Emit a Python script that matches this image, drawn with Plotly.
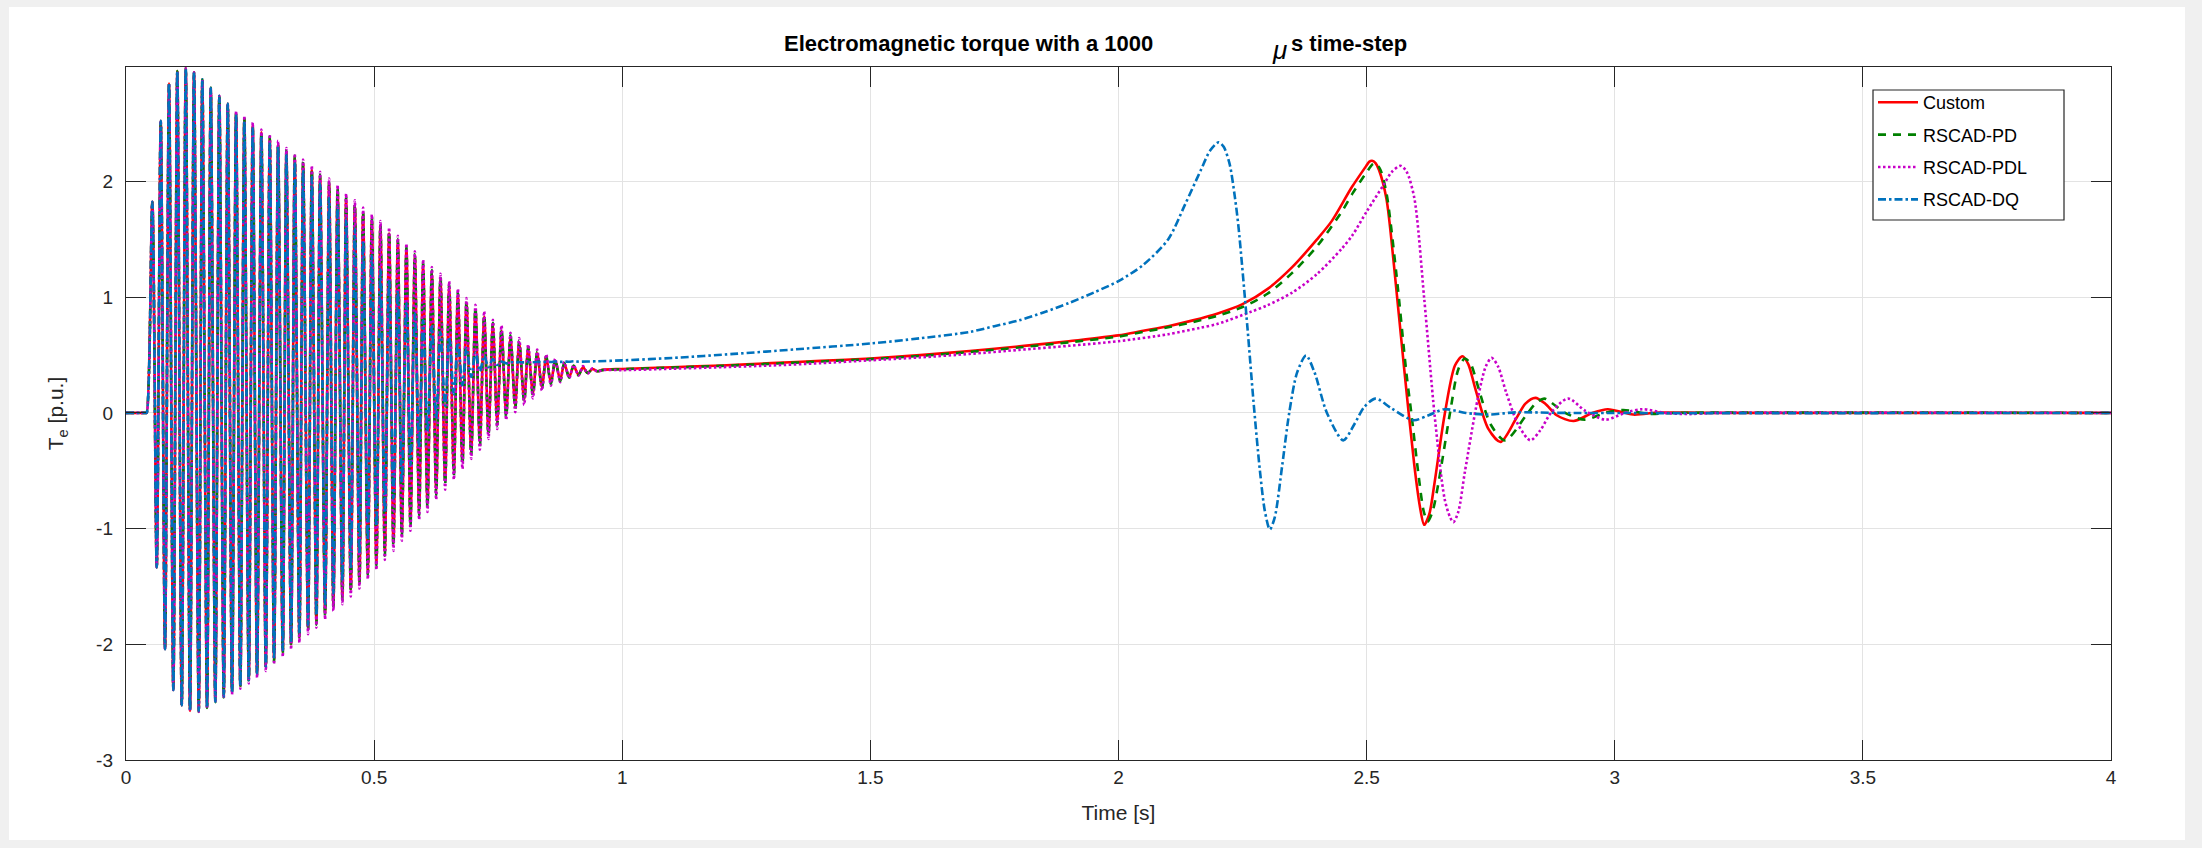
import plotly.graph_objects as go

# ---------------- data ----------------
# times of the positive / negative extremes of the start-up torque oscillation [s]
top_t = [0.0530, 0.0700, 0.0867, 0.1034, 0.1204, 0.1371, 0.1538, 0.1708, 0.1881, 0.2050,
         0.2218, 0.2385, 0.2554, 0.2728, 0.2897, 0.3065, 0.3232, 0.3401, 0.3569, 0.3744,
         0.3911, 0.4093, 0.4264, 0.4435, 0.4611, 0.4778, 0.4954, 0.5127, 0.5302, 0.5478,
         0.5651, 0.5821, 0.5988, 0.6163, 0.6337, 0.6512, 0.6688, 0.6861, 0.7042, 0.7218,
         0.7393, 0.7567, 0.7748, 0.7923, 0.8105, 0.8286, 0.8468, 0.8649, 0.8831, 0.9020]
bot_t = [0.0619, 0.0786, 0.0954, 0.1123, 0.1290, 0.1466, 0.1633, 0.1800, 0.1970, 0.2137,
         0.2304, 0.2474, 0.2641, 0.2817, 0.2984, 0.3159, 0.3327, 0.3494, 0.3669, 0.3837,
         0.4012, 0.4179, 0.4361, 0.4530, 0.4704, 0.4873, 0.5046, 0.5216, 0.5389, 0.5558,
         0.5732, 0.5907, 0.6075, 0.6250, 0.6431, 0.6607, 0.6780, 0.6956, 0.7131, 0.7304,
         0.7480, 0.7661, 0.7843, 0.8024, 0.8200, 0.8381, 0.8562, 0.8750, 0.8931, 0.9119]
pre_t = [0.0, 0.030, 0.0400, 0.0417]
pre_v = [0.0, 0.0, 0.0, 0.0]

# Custom
custom_top = [1.824, 2.525, 2.848, 2.955, 2.978, 2.944, 2.883, 2.811, 2.742, 2.673,
              2.59, 2.545, 2.485, 2.425, 2.38, 2.32, 2.26, 2.21, 2.155, 2.10,
              2.045, 1.985, 1.925, 1.85, 1.79, 1.725, 1.665, 1.61, 1.55, 1.48,
              1.41, 1.345, 1.275, 1.21, 1.15, 1.085, 1.02, 0.945, 0.885, 0.83,
              0.76, 0.71, 0.65, 0.605, 0.555, 0.515, 0.48, 0.45, 0.425, 0.405]
custom_bot = [-1.336, -2.043, -2.395, -2.528, -2.577, -2.58, -2.545, -2.49, -2.45, -2.41,
              -2.36, -2.31, -2.255, -2.195, -2.135, -2.065, -2.0, -1.94, -1.865, -1.805,
              -1.73, -1.655, -1.595, -1.525, -1.455, -1.37, -1.29, -1.20, -1.12, -1.03,
              -0.945, -0.85, -0.78, -0.675, -0.59, -0.505, -0.415, -0.33, -0.25, -0.165,
              -0.08, -0.005, 0.06, 0.115, 0.17, 0.225, 0.26, 0.285, 0.31, 0.33]
custom_tail_t = [0.921, 0.930, 0.94, 0.95, 0.96, 1.0, 1.1, 1.2, 1.3, 1.4, 1.5, 1.6, 1.7, 1.8,
                 1.9, 2.0, 2.05, 2.1, 2.15, 2.2, 2.25, 2.3, 2.35, 2.4, 2.43, 2.47, 2.5, 2.505,
                 2.511, 2.518, 2.525, 2.54, 2.555, 2.575, 2.596, 2.607, 2.616, 2.626, 2.637,
                 2.657, 2.678, 2.693, 2.705, 2.719, 2.745, 2.77, 2.801, 2.82, 2.84, 2.86,
                 2.883, 2.917, 2.955, 2.986, 3.037, 3.09, 3.2, 4.0]
custom_tail_v = [0.395, 0.345, 0.38, 0.36, 0.372, 0.38, 0.395, 0.41, 0.43, 0.45, 0.47, 0.50,
                 0.535, 0.575, 0.62, 0.67, 0.71, 0.75, 0.80, 0.86, 0.94, 1.07, 1.26, 1.50,
                 1.66, 1.95, 2.14, 2.17, 2.18, 2.16, 2.10, 1.85, 1.28, 0.41, -0.45, -0.80,
                 -0.967, -0.88, -0.60, -0.02, 0.41, 0.49, 0.42, 0.21, -0.136, -0.25, -0.05,
                 0.08, 0.13, 0.08, -0.02, -0.07, 0.0, 0.032, -0.014, 0.003, 0.0, 0.0]

# RSCAD-PD
pd_top = [1.824, 2.525, 2.848, 2.955, 2.978, 2.944, 2.883, 2.811, 2.742, 2.673,
          2.60, 2.555, 2.495, 2.435, 2.39, 2.335, 2.275, 2.225, 2.17, 2.115,
          2.06, 2.0, 1.945, 1.87, 1.81, 1.745, 1.69, 1.63, 1.57, 1.5,
          1.435, 1.37, 1.3, 1.235, 1.175, 1.11, 1.045, 0.965, 0.91, 0.85,
          0.78, 0.73, 0.67, 0.625, 0.57, 0.53, 0.49, 0.46, 0.43, 0.41]
pd_bot = [-1.336, -2.043, -2.395, -2.528, -2.577, -2.583, -2.55, -2.5, -2.46, -2.42,
          -2.37, -2.325, -2.27, -2.21, -2.155, -2.085, -2.02, -1.96, -1.89, -1.83,
          -1.755, -1.68, -1.62, -1.55, -1.48, -1.4, -1.32, -1.235, -1.155, -1.065,
          -0.98, -0.885, -0.815, -0.71, -0.625, -0.54, -0.45, -0.365, -0.285, -0.195,
          -0.11, -0.035, 0.035, 0.095, 0.15, 0.21, 0.25, 0.275, 0.305, 0.325]
pd_tail_t = [0.921, 0.930, 0.94, 0.95, 0.96, 1.0, 1.1, 1.2, 1.3, 1.4, 1.5, 1.6, 1.7, 1.8,
             1.9, 2.0, 2.05, 2.1, 2.15, 2.2, 2.25, 2.3, 2.35, 2.4, 2.45, 2.472, 2.5, 2.512,
             2.518, 2.528, 2.54, 2.56, 2.58, 2.59, 2.605, 2.615, 2.623, 2.633, 2.645, 2.668,
             2.685, 2.698, 2.71, 2.725, 2.75, 2.779, 2.82, 2.84, 2.858, 2.9, 2.94, 2.98,
             3.017, 3.07, 3.12, 4.0]
pd_tail_v = [0.40, 0.345, 0.38, 0.36, 0.37, 0.378, 0.392, 0.407, 0.425, 0.445, 0.465, 0.493,
             0.527, 0.566, 0.61, 0.66, 0.70, 0.74, 0.785, 0.84, 0.915, 1.03, 1.21, 1.44,
             1.74, 1.90, 2.08, 2.15, 2.16, 2.10, 1.90, 1.20, 0.35, 0.0, -0.55, -0.85, -0.94,
             -0.85, -0.60, 0.0, 0.38, 0.47, 0.42, 0.22, -0.10, -0.237, -0.03, 0.08, 0.124,
             0.0, -0.058, 0.0, 0.025, -0.008, 0.0, 0.0]

# RSCAD-PDL
pdl_top = [1.824, 2.525, 2.848, 2.955, 2.978, 2.944, 2.883, 2.811, 2.742, 2.673,
           2.61, 2.568, 2.51, 2.45, 2.407, 2.352, 2.29, 2.24, 2.19, 2.136,
           2.084, 2.026, 1.968, 1.896, 1.838, 1.775, 1.715, 1.659, 1.602, 1.530,
           1.463, 1.397, 1.325, 1.261, 1.203, 1.137, 1.074, 0.993, 0.935, 0.877,
           0.805, 0.756, 0.693, 0.647, 0.592, 0.548, 0.505, 0.468, 0.439, 0.415]
pdl_bot = [-1.336, -2.043, -2.395, -2.528, -2.577, -2.585, -2.555, -2.505, -2.468, -2.433,
           -2.384, -2.338, -2.288, -2.231, -2.173, -2.107, -2.043, -1.985, -1.913, -1.856,
           -1.784, -1.711, -1.654, -1.587, -1.518, -1.437, -1.357, -1.270, -1.192, -1.105,
           -1.019, -0.924, -0.855, -0.750, -0.664, -0.577, -0.485, -0.398, -0.318, -0.225,
           -0.139, -0.061, 0.006, 0.069, 0.127, 0.193, 0.236, 0.266, 0.300, 0.323]
pdl_tail_t = [0.921, 0.930, 0.94, 0.95, 0.96, 1.0, 1.1, 1.2, 1.3, 1.4, 1.5, 1.6, 1.7, 1.8,
              1.9, 2.0, 2.1, 2.164, 2.2, 2.267, 2.3, 2.35, 2.4, 2.45, 2.472, 2.5, 2.534,
              2.55, 2.568, 2.58, 2.596, 2.616, 2.637, 2.657, 2.668, 2.675, 2.685, 2.698,
              2.724, 2.74, 2.752, 2.765, 2.781, 2.806, 2.83, 2.85, 2.873, 2.906, 2.94,
              2.981, 3.02, 3.056, 3.1, 3.15, 3.2, 4.0]
pdl_tail_v = [0.405, 0.34, 0.385, 0.355, 0.37, 0.37, 0.382, 0.395, 0.41, 0.43, 0.455, 0.48,
              0.51, 0.545, 0.58, 0.62, 0.68, 0.735, 0.77, 0.874, 0.93, 1.04, 1.20, 1.42,
              1.54, 1.74, 1.97, 2.08, 2.136, 2.09, 1.86, 0.99, -0.02, -0.74, -0.90, -0.944,
              -0.85, -0.51, 0.124, 0.40, 0.476, 0.40, 0.18, -0.107, -0.237, -0.15, 0.01,
              0.124, 0.02, -0.058, 0.0, 0.032, 0.0, -0.01, 0.0, 0.0]

# RSCAD-DQ
dq_top = [1.824, 2.525, 2.848, 2.955, 2.978, 2.944, 2.883, 2.811, 2.742, 2.673,
          2.58, 2.517, 2.46, 2.387, 2.344, 2.30, 2.228, 2.17, 2.098, 2.04,
          1.983, 1.86, 1.79, 1.68, 1.59, 1.48, 1.36, 1.24, 1.15, 1.06,
          0.95, 0.86, 0.80, 0.75, 0.70, 0.655, 0.61, 0.56, 0.525, 0.495,
          0.465, 0.445, 0.44, 0.44, 0.441, 0.442, 0.443, 0.444, 0.445, 0.446]
dq_bot = [-1.336, -2.043, -2.395, -2.528, -2.57, -2.575, -2.545, -2.495, -2.45, -2.41,
          -2.36, -2.31, -2.25, -2.19, -2.12, -2.05, -1.98, -1.91, -1.83, -1.75,
          -1.66, -1.56, -1.45, -1.34, -1.22, -1.10, -0.98, -0.86, -0.74, -0.60,
          -0.45, -0.30, -0.16, -0.05, 0.06, 0.16, 0.24, 0.31, 0.36, 0.395,
          0.415, 0.428, 0.435, 0.437, 0.438, 0.439, 0.44, 0.441, 0.442, 0.443]
dq_tail_t = [0.95, 1.0, 1.1, 1.225, 1.35, 1.5, 1.6, 1.7, 1.75, 1.8, 1.85, 1.9, 1.95,
             2.0, 2.05, 2.1, 2.134, 2.166, 2.185, 2.202, 2.212, 2.224, 2.235, 2.242,
             2.26, 2.272, 2.285, 2.295, 2.305, 2.315, 2.33, 2.344, 2.36, 2.378, 2.395,
             2.42, 2.453, 2.475, 2.495, 2.518, 2.55, 2.594, 2.625, 2.657, 2.7, 2.745,
             2.8, 2.9, 4.0]
dq_tail_v = [0.447, 0.454, 0.475, 0.51, 0.55, 0.60, 0.645, 0.70, 0.75, 0.80, 0.87, 0.95,
             1.04, 1.14, 1.28, 1.50, 1.80, 2.10, 2.27, 2.34, 2.30, 2.15, 1.85, 1.60,
             0.73, 0.10, -0.50, -0.85, -1.007, -0.90, -0.45, 0.0, 0.35, 0.496, 0.35,
             0.0, -0.237, -0.10, 0.05, 0.124, 0.04, -0.063, -0.02, 0.032, 0.0, -0.015,
             0.005, 0.0, 0.0]

series_names = ["Custom", "RSCAD-PD", "RSCAD-PDL", "RSCAD-DQ"]
x_tickvals = [0, 0.5, 1, 1.5, 2, 2.5, 3, 3.5, 4]
x_ticktext = ["0", "0.5", "1", "1.5", "2", "2.5", "3", "3.5", "4"]
y_tickvals = [-3, -2, -1, 0, 1, 2]
y_ticktext = ["-3", "-2", "-1", "0", "1", "2"]


def assemble(top_v, bot_v, tail_t, tail_v):
    t = list(pre_t)
    v = list(pre_v)
    for k in range(len(top_t)):
        t += [top_t[k], bot_t[k]]
        v += [top_v[k], bot_v[k]]
    return t + tail_t, v + tail_v


styles = [
    dict(color="#ff0000", width=2.6, dash="solid", shape="spline", smoothing=0.8),
    dict(color="#008000", width=2.6, dash="8px,7px", shape="spline", smoothing=0.8),
    dict(color="#c800c8", width=2.6, dash="2.5px,2.5px", shape="spline", smoothing=0.8),
    dict(color="#0072bd", width=2.6, dash="8px,3px,2.5px,3px", shape="spline", smoothing=0.8),
]
data = [
    assemble(custom_top, custom_bot, custom_tail_t, custom_tail_v),
    assemble(pd_top, pd_bot, pd_tail_t, pd_tail_v),
    assemble(pdl_top, pdl_bot, pdl_tail_t, pdl_tail_v),
    assemble(dq_top, dq_bot, dq_tail_t, dq_tail_v),
]

FONT = "Liberation Sans, Arial, Helvetica, sans-serif"
W, H = 2202, 848
ML, MR, MT, MB = 126, 91, 67, 88
PW, PH = W - ML - MR, H - MT - MB


def px(x):
    return (x - ML) / PW


def py(y):
    return (H - MB - y) / PH


fig = go.Figure()
for i, (name, st, (t, v)) in enumerate(zip(series_names, styles, data)):
    fig.add_trace(go.Scatter(x=t, y=v, mode="lines", name=name, line=st,
                             legendgroup=name, hoverinfo="skip"))

axis_common = dict(
    showline=True, linecolor="#262626", linewidth=1.4, mirror="ticks",
    ticks="inside", ticklen=20, tickwidth=1, tickcolor="#262626",
    showgrid=True, gridcolor="#e3e3e3", gridwidth=1, zeroline=False,
    tickfont=dict(family=FONT, size=19, color="#262626"),
)

fig.update_layout(
    width=W, height=H,
    margin=dict(l=ML, r=MR, t=MT, b=MB, pad=0),
    template="none",
    paper_bgcolor="#f0f0f0",
    plot_bgcolor="white",
    showlegend=True,
    legend=dict(x=px(1873), y=py(84), xanchor="left", yanchor="top",
                bgcolor="rgba(0,0,0,0)", borderwidth=0,
                font=dict(family=FONT, size=18, color="#000000"),
                tracegroupgap=6, itemwidth=40, traceorder="grouped"),
    xaxis=dict(range=[0, 4], tickmode="array", tickvals=x_tickvals, ticktext=x_ticktext,
               ticklabelstandoff=0,
               title=dict(text="Time [s]", font=dict(family=FONT, size=21, color="#262626"),
                          standoff=18),
               **axis_common),
    yaxis=dict(range=[-3, 2.99], tickmode="array", tickvals=y_tickvals, ticktext=y_ticktext,
               ticklabelstandoff=8,
               title=dict(text="T<sub>e</sub> [p.u.]",
                          font=dict(family=FONT, size=21, color="#262626"), standoff=26),
               **axis_common),
    shapes=[
        dict(type="rect", xref="paper", yref="paper", layer="below",
             x0=px(9), x1=px(2185), y0=py(840), y1=py(7),
             fillcolor="white", line=dict(width=0)),
        dict(type="rect", xref="paper", yref="paper", layer="above",
             x0=px(1873), x1=px(2064), y0=py(220), y1=py(90),
             fillcolor="white", line=dict(color="#262626", width=1.2)),
    ],
    annotations=[
        dict(text="<b>Electromagnetic torque with a 1000</b>", xref="paper", yref="paper",
             x=px(782), y=py(44), xanchor="left", yanchor="middle", showarrow=False,
             font=dict(family=FONT, size=22, color="#000000")),
        dict(text="<i>μ</i>", xref="paper", yref="paper",
             x=px(1270), y=py(50), xanchor="left", yanchor="middle", showarrow=False,
             font=dict(family=FONT, size=26, color="#000000")),
        dict(text="<b>s time-step</b>", xref="paper", yref="paper",
             x=px(1289), y=py(44), xanchor="left", yanchor="middle", showarrow=False,
             font=dict(family=FONT, size=22, color="#000000")),
    ],
)

fig.write_html("out.html", include_plotlyjs=True, config={"displayModeBar": False},
               post_script="document.body.style.margin='0';document.body.style.overflow='hidden';")
